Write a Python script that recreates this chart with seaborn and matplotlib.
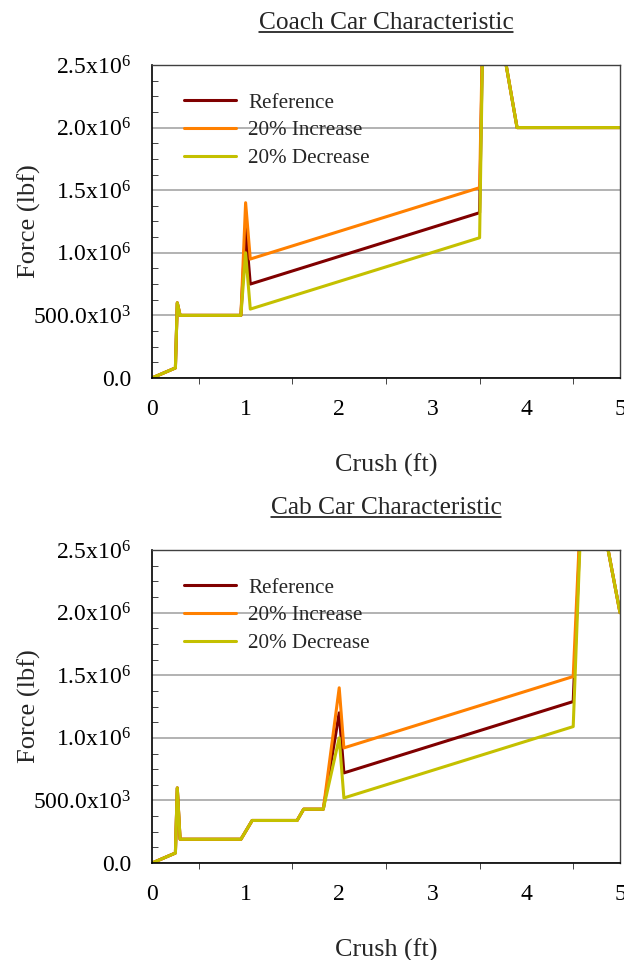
import matplotlib
matplotlib.use("Agg")
import matplotlib.pyplot as plt
import seaborn as sns
import pandas as pd
from matplotlib.lines import Line2D
from matplotlib.ticker import MultipleLocator, AutoMinorLocator

sns.set_style("white")
plt.rcParams['font.family'] = ['Liberation Serif', 'DejaVu Serif']
plt.rcParams['mathtext.fontset'] = 'custom'
plt.rcParams['mathtext.rm'] = 'Liberation Serif'
plt.rcParams['mathtext.it'] = 'Liberation Serif:italic'

series_names = ['Reference', '20% Increase', '20% Decrease']
colors = ['#800000', '#FF8000', '#C4C000']

# Coach car crush characteristic (ft, lbf)
coach_x = [0, 0.25, 0.27, 0.30, 0.95, 1.00, 1.05, 3.50, 3.55, 3.90, 5.00]
coach_ref = [0, 80e3, 600e3, 500e3, 500e3, 1.2e6, 0.75e6, 1.32e6, 3.5e6, 2.0e6, 2.0e6]
coach_inc = [0, 80e3, 600e3, 500e3, 500e3, 1.4e6, 0.95e6, 1.52e6, 3.5e6, 2.0e6, 2.0e6]
coach_dec = [0, 80e3, 600e3, 500e3, 500e3, 1.0e6, 0.55e6, 1.12e6, 3.5e6, 2.0e6, 2.0e6]

# Cab car crush characteristic (ft, lbf)
cab_x = [0, 0.25, 0.27, 0.30, 0.95, 1.07, 1.55, 1.62, 1.83, 2.00, 2.05, 4.50, 4.62, 5.00]
cab_ref = [0, 80e3, 600e3, 190e3, 190e3, 340e3, 340e3, 430e3, 430e3, 1.2e6, 0.72e6, 1.29e6, 3.5e6, 2.0e6]
cab_inc = [0, 80e3, 600e3, 190e3, 190e3, 340e3, 340e3, 430e3, 430e3, 1.4e6, 0.92e6, 1.49e6, 3.5e6, 2.0e6]
cab_dec = [0, 80e3, 600e3, 190e3, 190e3, 340e3, 340e3, 430e3, 430e3, 1.0e6, 0.52e6, 1.09e6, 3.5e6, 2.0e6]

y_ticks = [0, 0.5e6, 1.0e6, 1.5e6, 2.0e6, 2.5e6]
y_labels = ['0.0', '500.0x10$^3$', '1.0x10$^6$', '1.5x10$^6$', '2.0x10$^6$', '2.5x10$^6$']
x_ticks = [0, 1, 2, 3, 4, 5]


def long_df(x, ref, inc, dec):
    frames = []
    for name, y in zip(series_names, [ref, inc, dec]):
        frames.append(pd.DataFrame({'Crush': x, 'Force': y, 'Series': name}))
    return pd.concat(frames, ignore_index=True)


def draw(ax, df, title):
    sns.lineplot(data=df, x='Crush', y='Force', hue='Series', hue_order=series_names,
                 palette=colors, estimator=None, sort=False, linewidth=2.2, ax=ax)
    ax.set_xlim(0, 5)
    ax.set_ylim(0, 2.5e6)
    ax.set_xticks(x_ticks)
    ax.set_xticklabels([str(t) for t in x_ticks])
    ax.set_yticks(y_ticks)
    ax.set_yticklabels(y_labels)
    ax.xaxis.set_minor_locator(MultipleLocator(0.5))
    ax.yaxis.set_minor_locator(AutoMinorLocator(4))
    ax.yaxis.grid(True, color='#A6A6A6', linewidth=1.2)
    ax.set_axisbelow(True)
    ax.tick_params(axis='both', which='major', labelsize=17, colors='black', length=5)
    ax.tick_params(axis='y', which='major', direction='out', pad=10)
    ax.tick_params(axis='y', which='minor', direction='in', length=4, left=True)
    ax.tick_params(axis='x', which='minor', direction='out', length=4, bottom=True)
    ax.tick_params(axis='x', which='major', pad=10)
    for side in ['left', 'bottom']:
        ax.spines[side].set_color('black')
        ax.spines[side].set_linewidth(1.2)
    for side in ['top', 'right']:
        ax.spines[side].set_color('#404040')
        ax.spines[side].set_linewidth(1.0)
    ax.set_xlabel('Crush (ft)', fontsize=18.8, labelpad=24)
    ax.set_ylabel('Force (lbf)', fontsize=19)
    ax.yaxis.set_label_coords(-0.238, 0.5)
    ax.set_title(title, fontsize=18.3, pad=26)
    handles, labels = ax.get_legend_handles_labels()
    ax.legend(handles, labels, frameon=False, loc='upper left', fontsize=15.2,
              bbox_to_anchor=(0.028, 0.972), handlelength=2.46, labelspacing=0.38,
              handletextpad=0.57)


def underline_title(fig, ax):
    renderer = fig.canvas.get_renderer()
    bb = ax.title.get_window_extent(renderer).transformed(fig.transFigure.inverted())
    y = bb.y0 + 0.002
    fig.add_artist(Line2D([bb.x0, bb.x1], [y, y], color='black', linewidth=1.1,
                          transform=fig.transFigure))


fig = plt.figure(figsize=(6.24, 9.6), dpi=100)
ax1 = fig.add_axes([0.2436, 0.6063, 0.75, 0.326])
ax2 = fig.add_axes([0.2436, 0.1010, 0.75, 0.326])

draw(ax1, long_df(coach_x, coach_ref, coach_inc, coach_dec), 'Coach Car Characteristic')
draw(ax2, long_df(cab_x, cab_ref, cab_inc, cab_dec), 'Cab Car Characteristic')

fig.canvas.draw()
underline_title(fig, ax1)
underline_title(fig, ax2)

fig.savefig('out.png', dpi=100)
